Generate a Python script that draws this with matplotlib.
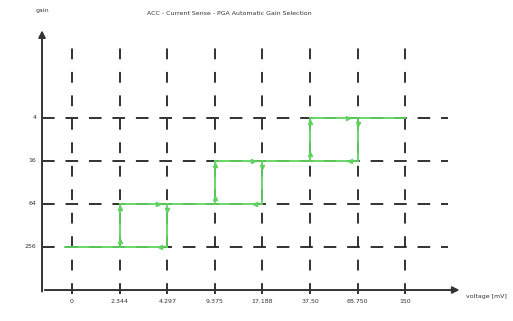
import matplotlib.pyplot as plt

# thresholds along the voltage axis (mV) and gain steps
volt_labels = ['0', '2.344', '4.297', '9.375', '17.188', '37.50', '68.750', '150']
gain_labels = ['256', '64', '16', '4']

# switch-up points (index into volt_labels) and switch-down points per gain step
up_idx = [1, 3, 5]
down_idx = [2, 4, 6]
end_idx = 7

green = '#5fd35f'

fig = plt.figure(figsize=(5.13, 3.21), dpi=100)
ax = fig.add_axes([0, 0, 1, 1])
ax.set_xlim(-1.513, 9.265)
ax.set_ylim(-1.72, 5.74)
ax.axis('off')

n_x = len(volt_labels)
n_y = len(gain_labels)
x_axis_y = -1.0
y_axis_x = -0.63

# dashed grid
for i in range(n_x):
    ax.plot([i, i], [x_axis_y - 0.1, 4.65], color='#222222', lw=1.3,
            dashes=(6, 7), zorder=1)
for j in range(n_y):
    ax.plot([y_axis_x, 7.9], [j, j], color='#222222', lw=1.3,
            dashes=(7, 6), zorder=1)

# axes with arrow heads
ax.annotate('', xy=(8.2, x_axis_y), xytext=(y_axis_x, x_axis_y),
            arrowprops=dict(arrowstyle='-|>', color='#333333', lw=1.4,
                            mutation_scale=10))
ax.annotate('', xy=(y_axis_x, 5.1), xytext=(y_axis_x, x_axis_y - 0.1),
            arrowprops=dict(arrowstyle='-|>', color='#333333', lw=1.4,
                            mutation_scale=10))

for i, lab in enumerate(volt_labels):
    ax.text(i, x_axis_y - 0.2, lab, ha='center', va='top', fontsize=4.5,
            color='#333333')
for j, lab in enumerate(gain_labels):
    ax.text(y_axis_x - 0.12, j, lab, ha='right', va='center', fontsize=4.5,
            color='#333333')

ax.text(y_axis_x, 5.5, 'gain', ha='center', va='center', fontsize=4.5,
        color='#333333')
ax.text(8.27, x_axis_y - 0.15, 'voltage [mV]', ha='left', va='center',
        fontsize=4.5, color='#333333')
ax.text(3.3, 5.43, 'ACC - Current Sense - PGA Automatic Gain Selection',
        ha='center', va='center', fontsize=4.5, color='#333333')

# hysteresis path
ax.plot([-0.15, down_idx[0]], [0, 0], color=green, lw=1.3, zorder=3)
for k in range(len(up_idx)):
    lo, hi = k, k + 1
    right = down_idx[k + 1] if k + 1 < len(down_idx) else end_idx
    ax.plot([up_idx[k], right], [hi, hi], color=green, lw=1.3, zorder=3)
    ax.plot([up_idx[k], up_idx[k]], [lo, hi], color=green, lw=1.3, zorder=3)
    ax.plot([down_idx[k], down_idx[k]], [hi, lo], color=green, lw=1.3, zorder=3)
    # small direction arrows
    ax.plot(up_idx[k], lo + 0.15, marker='^', ms=3, color=green, zorder=4)
    ax.plot(up_idx[k], hi - 0.1, marker='^', ms=3, color=green, zorder=4)
    ax.plot(down_idx[k], hi - 0.15, marker='v', ms=3, color=green, zorder=4)
    ax.plot(down_idx[k] - 0.15, lo, marker='<', ms=3, color=green, zorder=4)
    ax.plot(down_idx[k] - 0.2, hi, marker='>', ms=3, color=green, zorder=4)

fig.savefig('out.png', dpi=100)
